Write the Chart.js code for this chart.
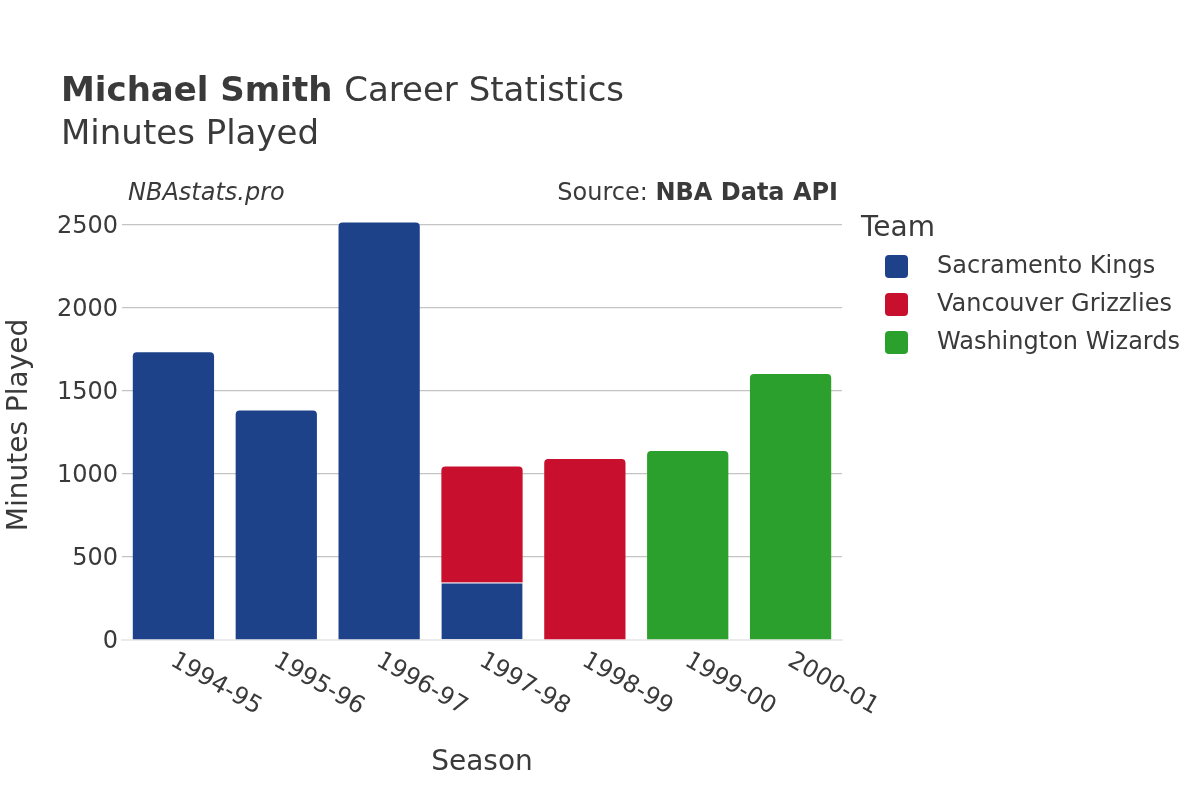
<!DOCTYPE html>
<html>
<head>
<meta charset="utf-8">
<script src="https://cdn.jsdelivr.net/npm/chart.js@4"></script>
<style>
  html, body { margin:0; padding:0; background:#fff; }
  #wrap { width:1200px; height:800px; position:relative; }
</style>
</head>
<body>
<div id="wrap"><canvas id="chart" width="1200" height="800"></canvas></div>
<script>
// Michael Smith - minutes played per season, stacked by team

const seasons = ['1994-95', '1995-96', '1996-97', '1997-98', '1998-99', '1999-00', '2000-01'];
const sacramento = [1733, 1383, 2516, 346, null, null, null];
const vancouver = [null, null, null, 700, 1090, null, null];
const washington = [null, null, null, null, null, 1138, 1602];
const yTicks = [0, 500, 1000, 1500, 2000, 2500];

const TXT = '#3a3a3a';
const FONT = '"DejaVu Sans", Verdana, sans-serif';

// thin white seam only where another team sits on top in the stack
function seam(c){
  const sets = c.chart.data.datasets;
  for(let j = c.datasetIndex + 1; j < sets.length; j++){
    if(sets[j].data[c.dataIndex]) return { top: 1, left: 0, right: 0, bottom: 0 };
  }
  return 0;
}

// titles, rotated season labels, legend
const decor = {
  id: 'decor',
  afterDraw(chart){
    const ctx = chart.ctx, area = chart.chartArea;
    ctx.save();
    ctx.fillStyle = TXT;
    ctx.textBaseline = 'alphabetic';

    // title
    ctx.textAlign = 'left';
    ctx.font = 'bold 34px ' + FONT;
    const t1 = 'Michael Smith';
    ctx.fillText(t1, 61, 101);
    const w1 = ctx.measureText(t1 + ' ').width;
    ctx.font = '34px ' + FONT;
    ctx.fillText('Career Statistics', 61 + w1, 101);
    ctx.fillText('Minutes Played', 61, 144);

    // annotations
    ctx.font = 'italic 24px ' + FONT;
    ctx.fillText('NBAstats.pro', 128, 200);
    ctx.textAlign = 'right';
    ctx.font = 'bold 24px ' + FONT;
    const src = 'NBA Data API';
    ctx.fillText(src, 838, 200);
    const ws = ctx.measureText(src).width;
    ctx.font = '24px ' + FONT;
    ctx.fillText('Source: ', 838 - ws, 200);

    // axis titles
    ctx.textAlign = 'center';
    ctx.font = '28px ' + FONT;
    ctx.fillText('Season', (area.left + area.right) / 2, 770);
    ctx.save();
    ctx.translate(27, 425);
    ctx.rotate(-Math.PI / 2);
    ctx.fillText('Minutes Played', 0, 0);
    ctx.restore();

    // season labels, rotated clockwise
    const xs = chart.scales.x;
    ctx.font = '24px ' + FONT;
    ctx.textAlign = 'left';
    ctx.textBaseline = 'middle';
    seasons.forEach((s, i) => {
      const x = xs.getPixelForTick(i);
      ctx.save();
      ctx.translate(x - 1, 659);
      ctx.rotate(Math.PI / 6);
      ctx.fillText(s, 0, 0);
      ctx.restore();
    });

    // legend
    ctx.textBaseline = 'alphabetic';
    ctx.font = '28px ' + FONT;
    ctx.fillText('Team', 861, 236);
    ctx.font = '24px ' + FONT;
    chart.data.datasets.forEach((ds, i) => {
      const y = 266 + i * 38;
      ctx.fillStyle = ds.backgroundColor;
      ctx.beginPath();
      ctx.roundRect(885, y - 11, 23, 23, 4);
      ctx.fill();
      ctx.fillStyle = TXT;
      ctx.textBaseline = 'middle';
      ctx.fillText(ds.label, 937, y + 1);
    });
    ctx.restore();
  }
};

new Chart(document.getElementById('chart'), {
  type: 'bar',
  data: {
    labels: seasons,
    datasets: [
      { label: 'Sacramento Kings', data: sacramento, backgroundColor: '#1d4289' },
      { label: 'Vancouver Grizzlies', data: vancouver, backgroundColor: '#c8102e' },
      { label: 'Washington Wizards', data: washington, backgroundColor: '#2ca02c' }
    ]
  },
  options: {
    responsive: false,
    animation: false,
    layout: { padding: { top: 201, right: 358, left: 0, bottom: 0 } },
    datasets: { bar: { barPercentage: 0.79, categoryPercentage: 1, borderRadius: 4,
      borderColor: '#ffffff', borderWidth: seam } },
    plugins: { legend: { display: false }, tooltip: { enabled: false } },
    scales: {
      x: {
        stacked: true,
        grid: { display: false, drawTicks: false },
        border: { color: '#ebebeb', width: 2 },
        ticks: { display: false },
        afterFit: s => { s.height = 160; }
      },
      y: {
        stacked: true,
        min: 0,
        max: 2645,
        afterBuildTicks: s => { s.ticks = yTicks.map(v => ({ value: v })); },
        grid: { color: '#c4c4c4', lineWidth: 1.3, drawTicks: false },
        border: { display: false },
        ticks: { color: TXT, font: { family: FONT, size: 24 }, padding: 4, labelOffset: 2, callback: v => String(v) },
        afterFit: s => { s.width = 122; }
      }
    }
  },
  plugins: [decor]
});
</script>
</body>
</html>
